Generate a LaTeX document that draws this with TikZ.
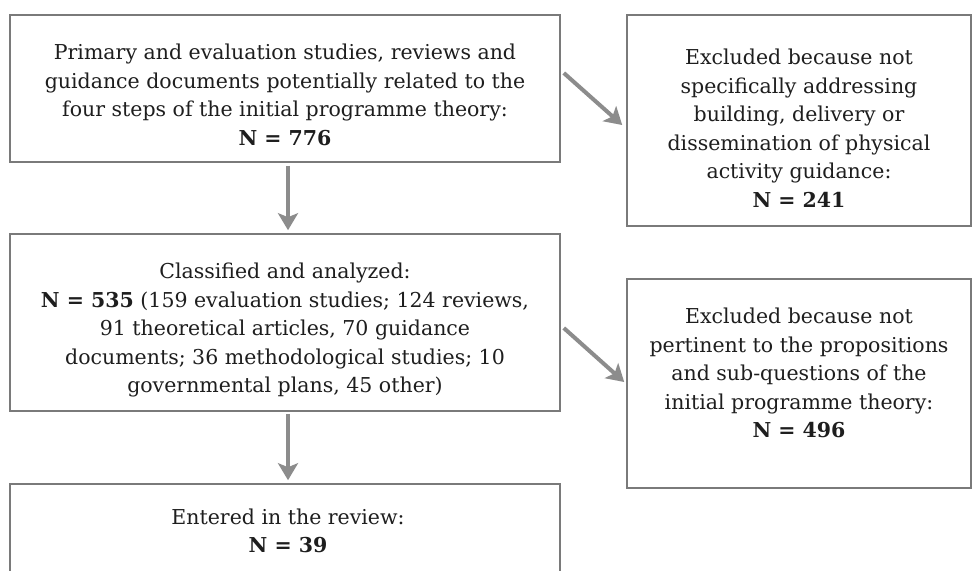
\documentclass[tikz,border=0pt]{standalone}
\usepackage{fontspec}
\setmainfont{DejaVu Serif}
\usetikzlibrary{arrows.meta,calc}
\definecolor{bordergray}{HTML}{7A7A7A}
\definecolor{arrowgray}{HTML}{8C8C8C}
\definecolor{textcol}{HTML}{1E1E1E}
\begin{document}
\begin{tikzpicture}[x=1pt,y=-1pt,
  boxnode/.style={draw=bordergray, line width=1.6pt, rectangle, inner sep=0pt},
  txt/.style={align=center, font=\fontsize{20.5}{28.5}\selectfont, text=textcol, inner sep=0pt},
  arr/.style={draw=arrowgray, line width=4pt, -{Stealth[length=17pt,width=20pt,inset=4pt]}}]
\clip (0,0) rectangle (973,570);
\fill[white] (0,0) rectangle (973,570);
% boxes
\node[boxnode, minimum width=550pt, minimum height=147pt] (b1) at (285,88.5) {};
\node[boxnode, minimum width=344pt, minimum height=211pt] (b2) at (799,120.5) {};
\node[boxnode, minimum width=550pt, minimum height=177pt] (b3) at (285,322.5) {};
\node[boxnode, minimum width=344pt, minimum height=209pt] (b4) at (799,383.5) {};
\node[boxnode, minimum width=550pt, minimum height=96pt] (b5) at (285,532) {};
% texts
\node[txt] (t1) at (285,95) {Primary and evaluation studies, reviews and\\guidance documents potentially related to the\\four steps of the initial programme theory:\\\textbf{N = 776}};
\node[txt] (t2) at (799,128) {Excluded because not\\specifically addressing\\building, delivery or\\dissemination of physical\\activity guidance:\\\textbf{N = 241}};
\node[txt] (t3) at (285,330) {Classified and analyzed:\\\textbf{N = 535} (159 evaluation studies; 124 reviews,\\91 theoretical articles, 70 guidance\\documents; 36 methodological studies; 10\\governmental plans, 45 other)};
\node[txt] (t4) at (799,373) {Excluded because not\\pertinent to the propositions\\and sub-questions of the\\initial programme theory:\\\textbf{N = 496}};
\node[txt] (t5) at (288,531) {Entered in the review:\\\textbf{N = 39}};
% arrows
\draw[arr] ([shift={(3,-15.5)}]b1.east) -- ([shift={(-4,4.5)}]b2.west);
\draw[arr] ([shift={(3,5.5)}]b3.east) -- ([shift={(-2,-1.5)}]b4.west);
\draw[arr] ([shift={(3,3)}]b1.south) -- ([shift={(3,-3)}]b3.north);
\draw[arr] ([shift={(3,2)}]b3.south) -- ([shift={(3,-3)}]b5.north);
\end{tikzpicture}
\end{document}
